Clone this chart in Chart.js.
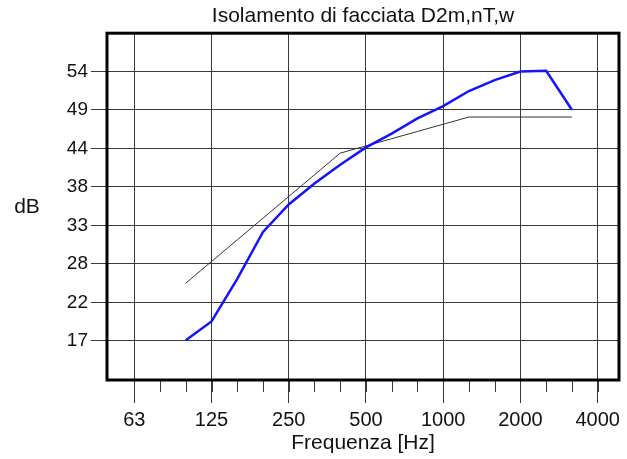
<!DOCTYPE html>
<html>
<head>
<meta charset="utf-8">
<script src="https://cdn.jsdelivr.net/npm/chart.js@4"></script>
<style>
  html, body { margin: 0; padding: 0; background: #fff; }
</style>
</head>
<body>
<canvas id="chart" width="627" height="459"></canvas>
<script>
// bande di terzo d'ottava sull'asse x (una posizione per banda)
const bands = ['63', '80', '100', '125', '160', '200', '250', '315', '400', '500', '630', '800', '1000', '1250', '1600', '2000', '2500', '3150', '4000']
const xTickLabels = ['63', '125', '250', '500', '1000', '2000', '4000']
const dataBands = ['100', '125', '160', '200', '250', '315', '400', '500', '630', '800', '1000', '1250', '1600', '2000', '2500', '3150']
// valori misurati (blu) e curva di riferimento (nera)
const measured = [17.1, 19.7, 25.6, 32.1, 35.9, 38.8, 41.4, 43.8, 45.7, 47.8, 49.5, 51.6, 53.1, 54.3, 54.4, 49.0]
const reference = [25, 28, 31, 34, 37, 40, 43, 44, 45, 46, 47, 48, 48, 48, 48, 48]
// tacche asse y (etichette arrotondate)
const yTicks = [17, 22.33, 27.67, 33, 38.33, 43.67, 49, 54.33]

Chart.defaults.font.family = "'Liberation Sans', Arial, sans-serif"
Chart.defaults.color = '#111'

const gridColor = '#3a3a3a'

const toPoints = (values) => dataBands.map((b, i) => ({ x: bands.indexOf(b), y: values[i] }))

// cornice spessa, tacche minori e scritta dB
const frame = {
  id: 'frame',
  afterDraw(chart) {
    const { ctx, chartArea: a, scales } = chart
    ctx.save()
    // tacche di terzo d'ottava
    ctx.strokeStyle = gridColor
    ctx.lineWidth = 1
    bands.forEach((b, i) => {
      const x = Math.round(scales.x.getPixelForValue(i)) + 0.5
      ctx.beginPath()
      ctx.moveTo(x, a.bottom)
      ctx.lineTo(x, a.bottom + 12)
      ctx.stroke()
    })
    ctx.strokeStyle = '#000'
    ctx.lineWidth = 3
    ctx.strokeRect(a.left, a.top, a.right - a.left, a.bottom - a.top)
    ctx.fillStyle = '#111'
    ctx.font = "21px 'Liberation Sans', Arial, sans-serif"
    ctx.textAlign = 'center'
    ctx.textBaseline = 'middle'
    ctx.fillText('dB', 27, 207)
    ctx.restore()
  },
}

new Chart(document.getElementById('chart'), {
  type: 'line',
  data: {
    datasets: [
      {
        data: toPoints(measured),
        borderColor: '#1414ff',
        borderWidth: 2.5,
        pointRadius: 0,
        tension: 0,
      },
      {
        data: toPoints(reference),
        borderColor: '#333',
        borderWidth: 1,
        pointRadius: 0,
        tension: 0,
      },
    ],
  },
  options: {
    responsive: false,
    animation: false,
    layout: { padding: { left: 0, right: 8, top: 0, bottom: 0 } },
    plugins: {
      legend: { display: false },
      tooltip: { enabled: false },
      title: {
        display: true,
        text: 'Isolamento di facciata D2m,nT,w',
        fullSize: false,
        color: '#111',
        font: { size: 21, weight: 'normal' },
        padding: { top: 4, bottom: 4 },
      },
    },
    scales: {
      x: {
        type: 'linear',
        min: -1.06,
        max: 18.83,
        afterBuildTicks: (scale) => {
          scale.ticks = xTickLabels.map((l) => ({ value: bands.indexOf(l) }))
        },
        afterFit: (scale) => { scale.height = 79 },
        ticks: {
          callback: (v) => bands[v],
          font: { size: 20 },
          padding: 5,
          maxRotation: 0,
        },
        grid: { color: gridColor, tickLength: 23, lineWidth: 1 },
        border: { display: false },
        title: {
          display: true,
          text: 'Frequenza [Hz]',
          font: { size: 21 },
          padding: { top: 0, bottom: 3 },
        },
      },
      y: {
        type: 'linear',
        min: 11.6,
        max: 59.6,
        afterBuildTicks: (scale) => {
          scale.ticks = yTicks.map((v) => ({ value: v }))
        },
        afterFit: (scale) => { scale.width = 107 },
        ticks: {
          callback: (v) => Math.round(v),
          font: { size: 19 },
          padding: 3,
        },
        grid: { color: gridColor, tickLength: 16, lineWidth: 1 },
        border: { display: false },
      },
    },
  },
  plugins: [frame],
})
</script>
</body>
</html>
